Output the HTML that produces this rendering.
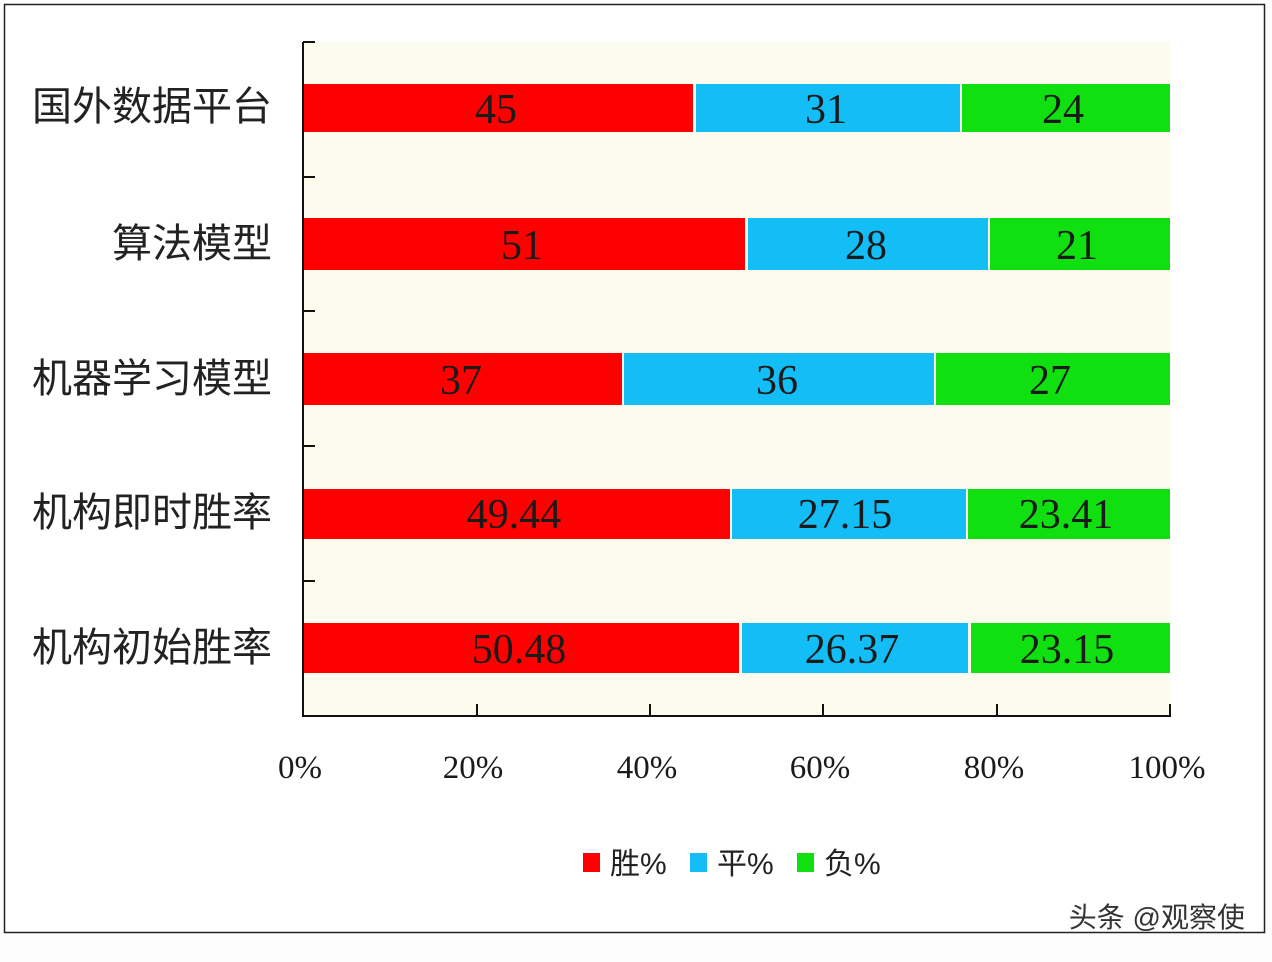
<!DOCTYPE html>
<html><head><meta charset="utf-8"><style>
html,body{margin:0;padding:0;background:#fff;}
svg{display:block;}
</style></head><body>
<svg width="1272" height="962" xmlns="http://www.w3.org/2000/svg">
<rect x="0" y="0" width="1272" height="962" fill="#fdfdfd"/>
<rect x="4.5" y="4.5" width="1260" height="928" fill="#ffffff" stroke="#222" stroke-width="1.5"/>
<rect x="303" y="42" width="867" height="674" fill="#fbfbee"/>
<g shape-rendering="crispEdges">
<rect x="303" y="84" width="390" height="48" fill="#fe0000"/>
<rect x="696" y="84" width="264" height="48" fill="#12bef5"/>
<rect x="962" y="84" width="208" height="48" fill="#10e010"/>
<rect x="303" y="218" width="442" height="52" fill="#fe0000"/>
<rect x="748" y="218" width="240" height="52" fill="#12bef5"/>
<rect x="990" y="218" width="180" height="52" fill="#10e010"/>
<rect x="303" y="353" width="319" height="52" fill="#fe0000"/>
<rect x="624" y="353" width="310" height="52" fill="#12bef5"/>
<rect x="936" y="353" width="234" height="52" fill="#10e010"/>
<rect x="303" y="489" width="427" height="50" fill="#fe0000"/>
<rect x="732" y="489" width="234" height="50" fill="#12bef5"/>
<rect x="968" y="489" width="202" height="50" fill="#10e010"/>
<rect x="303" y="623" width="436" height="50" fill="#fe0000"/>
<rect x="742" y="623" width="226" height="50" fill="#12bef5"/>
<rect x="971" y="623" width="199" height="50" fill="#10e010"/>
</g>
<g stroke="#111" stroke-width="2" fill="none">
<path d="M303 42 V716 H1170 V704"/>
<path d="M303 42 H315 M303 177 H315 M303 311 H315 M303 446 H315 M303 581 H315"/>
<path d="M477 716 V704 M650 716 V704 M823 716 V704 M997 716 V704"/>
</g>
<g font-family="Liberation Serif, serif" font-size="42" fill="#1a1a1a" text-anchor="middle">
<text x="496" y="123">45</text><text x="826" y="123">31</text><text x="1063" y="123">24</text>
<text x="522" y="259">51</text><text x="866" y="259">28</text><text x="1077" y="259">21</text>
<text x="461" y="394">37</text><text x="777" y="394">36</text><text x="1050" y="394">27</text>
<text x="514" y="528">49.44</text><text x="845" y="528">27.15</text><text x="1066" y="528">23.41</text>
<text x="519" y="663">50.48</text><text x="852" y="663">26.37</text><text x="1067" y="663">23.15</text>
</g>
<g font-family="Liberation Sans, 'Noto Sans CJK SC', sans-serif" font-size="40" fill="#222" text-anchor="end">
<text x="272" y="120">国外数据平台</text>
<text x="272" y="257">算法模型</text>
<text x="272" y="392">机器学习模型</text>
<text x="272" y="526">机构即时胜率</text>
<text x="272" y="661">机构初始胜率</text>
</g>
<g font-family="Liberation Serif, serif" font-size="33" fill="#1a1a1a" text-anchor="middle">
<text x="300" y="778">0%</text><text x="473" y="778">20%</text><text x="647" y="778">40%</text>
<text x="820" y="778">60%</text><text x="994" y="778">80%</text><text x="1167" y="778">100%</text>
</g>
<rect x="583" y="853" width="17" height="19" fill="#fe0000"/>
<rect x="690" y="853" width="17" height="19" fill="#12bef5"/>
<rect x="797" y="853" width="17" height="19" fill="#10e010"/>
<g font-family="Liberation Sans, 'Noto Sans CJK SC', sans-serif" font-size="30" fill="#222">
<text x="610" y="874">胜%</text><text x="717" y="874">平%</text><text x="824" y="874">负%</text>
</g>
<text x="1245" y="927" text-anchor="end" font-family="Liberation Sans, 'Noto Sans CJK SC', sans-serif" font-size="28" fill="#333">头条 @观察使</text>
</svg>
</body></html>
